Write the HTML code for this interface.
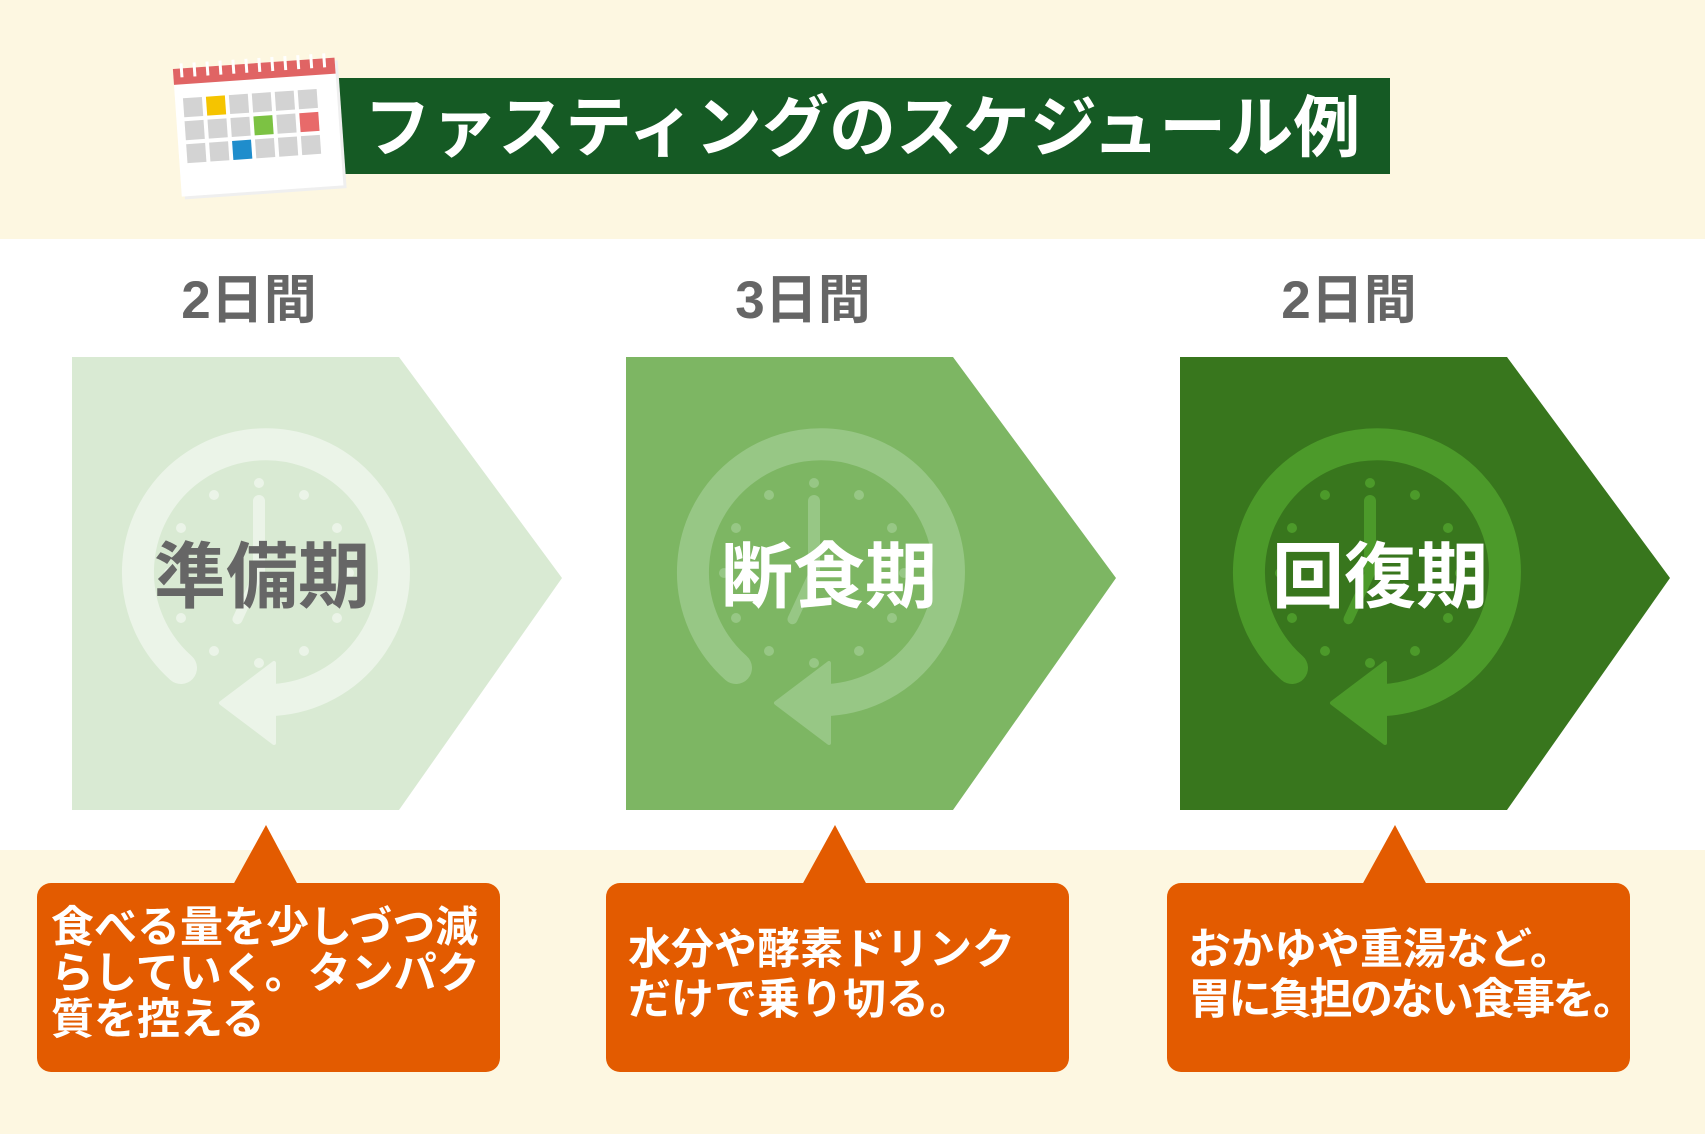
<!DOCTYPE html>
<html><head><meta charset="utf-8"><style>
html,body{margin:0;padding:0;background:#fff}
svg{display:block}
text{font-family:"Liberation Sans","Noto Sans CJK JP",sans-serif;font-weight:bold}
</style></head><body>
<svg width="1705" height="1134" viewBox="0 0 1705 1134" xmlns="http://www.w3.org/2000/svg">
<rect x="0" y="0" width="1705" height="239" fill="#fdf7e1"/>
<rect x="0" y="850" width="1705" height="284" fill="#fdf7e1"/>
<rect x="313" y="78" width="1077" height="96" fill="#155a24"/>
<text x="364" y="151" font-size="67" fill="#fff">ファスティングのスケジュール例</text>
<g transform="rotate(-4 260 125)">
<rect x="180" y="66" width="162" height="128" fill="#efefef"/>
<rect x="177" y="63" width="162" height="128" fill="#fff"/>
<rect x="177" y="63" width="162" height="16" fill="#e06464"/>
<g fill="#fff"><rect x="184" y="58" width="3" height="14"/><rect x="197" y="58" width="3" height="14"/><rect x="210" y="58" width="3" height="14"/><rect x="223" y="58" width="3" height="14"/><rect x="236" y="58" width="3" height="14"/><rect x="249" y="58" width="3" height="14"/><rect x="262" y="58" width="3" height="14"/><rect x="275" y="58" width="3" height="14"/><rect x="288" y="58" width="3" height="14"/><rect x="301" y="58" width="3" height="14"/><rect x="314" y="58" width="3" height="14"/><rect x="327" y="58" width="3" height="14"/></g>
<g fill="#d3d3d3">
<rect x="185" y="93" width="19" height="19"/><rect x="208" y="93" width="19" height="19" fill="#f5c400"/><rect x="231" y="93" width="19" height="19"/><rect x="254" y="93" width="19" height="19"/><rect x="277" y="93" width="19" height="19"/><rect x="300" y="93" width="19" height="19"/>
<rect x="185" y="116" width="19" height="19"/><rect x="208" y="116" width="19" height="19"/><rect x="231" y="116" width="19" height="19"/><rect x="254" y="116" width="19" height="19" fill="#7cc243"/><rect x="277" y="116" width="19" height="19"/><rect x="300" y="116" width="19" height="19" fill="#e86a6a"/>
<rect x="185" y="139" width="19" height="19"/><rect x="208" y="139" width="19" height="19"/><rect x="231" y="139" width="19" height="19" fill="#1f8dcc"/><rect x="254" y="139" width="19" height="19"/><rect x="277" y="139" width="19" height="19"/><rect x="300" y="139" width="19" height="19"/>
</g>
</g>
<g font-size="53" fill="#666" text-anchor="middle">
<text x="249" y="318">2日間</text>
<text x="803" y="318">3日間</text>
<text x="1349" y="318">2日間</text>
</g>
<polygon points="72,357 399,357 562,578 399,810 72,810" fill="#d9ead3"/>
<polygon points="626,357 953,357 1116,578 953,810 626,810" fill="#7db663"/>
<polygon points="1180,357 1507,357 1670,578 1507,810 1180,810" fill="#38761d"/>
<defs>
<g id="clk">
<path d="M -78 95 A 128 128 0 1 1 15 127" fill="none" stroke-width="32" stroke-linecap="round"/>
<polygon points="-38,130 15,90 15,170" stroke-width="4" stroke-linejoin="round"/>
<rect x="-6" y="-78" width="12" height="82" rx="6" stroke="none"/>
<rect x="-5" y="-4" width="10" height="60" rx="5" transform="rotate(25)" stroke="none"/>
<g stroke="none">
<circle cx="0" cy="-90" r="5"/><circle cx="0" cy="90" r="5"/><circle cx="-90" cy="0" r="5"/><circle cx="90" cy="0" r="5"/>
<circle cx="45" cy="-78" r="5"/><circle cx="-45" cy="-78" r="5"/><circle cx="45" cy="78" r="5"/><circle cx="-45" cy="78" r="5"/>
<circle cx="78" cy="-45" r="5"/><circle cx="-78" cy="-45" r="5"/><circle cx="78" cy="45" r="5"/><circle cx="-78" cy="45" r="5"/>
</g>
</g>
</defs>
<use href="#clk" x="259" y="573" fill="#ebf4e8" stroke="#ebf4e8"/>
<use href="#clk" x="814" y="573" fill="#97c785" stroke="#97c785"/>
<use href="#clk" x="1370" y="573" fill="#4c9a2a" stroke="#4c9a2a"/>
<g font-size="72" text-anchor="middle">
<text x="262" y="602" fill="#666">準備期</text>
<text x="829" y="602" fill="#fff">断食期</text>
<text x="1380" y="602" fill="#fff">回復期</text>
</g>
<g fill="#e35b00">
<polygon points="266,825 233,885 298,885"/>
<rect x="37" y="883" width="463" height="189" rx="14"/>
<polygon points="835,825 802,885 867,885"/>
<rect x="606" y="883" width="463" height="189" rx="14"/>
<polygon points="1395,825 1362,885 1427,885"/>
<rect x="1167" y="883" width="463" height="189" rx="14"/>
</g>
<g font-size="43" fill="#fff">
<text x="51" y="942">食べる量を少しづつ減</text>
<text x="51" y="988">らしていく。タンパク</text>
<text x="51" y="1034">質を控える</text>
<text x="628" y="964">水分や酵素ドリンク</text>
<text x="628" y="1014">だけで乗り切る。</text>
<text x="1188" y="964">おかゆや重湯など。</text>
<text x="1188" y="1014" letter-spacing="-2.5">胃に負担のない食事を。</text>
</g>
</svg>
</body></html>
